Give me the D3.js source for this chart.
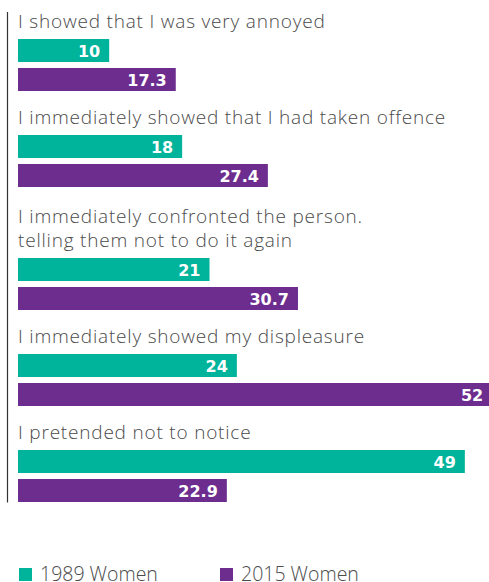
<!DOCTYPE html>
<html>
<head>
<meta charset="utf-8">
<script src="https://cdn.jsdelivr.net/npm/d3@7"></script>
<style>
  html, body { margin: 0; padding: 0; background: #ffffff; }
  svg { display: block; }
</style>
</head>
<body>
<svg id="chart" width="489" height="582"></svg>
<script>
// ---- data ----
const categories = [
  ["I showed that I was very annoyed"],
  ["I immediately showed that I had taken offence"],
  ["I immediately confronted the person.", "telling them not to do it again"],
  ["I immediately showed my displeasure"],
  ["I pretended not to notice"]
];
const seriesNames = ["1989 Women", "2015 Women"];
const values1989 = [10, 18, 21, 24, 49];
const values2015 = [17.3, 27.4, 30.7, 52, 22.9];
const valueLabels1989 = ["10", "18", "21", "24", "49"];
const valueLabels2015 = ["17.3", "27.4", "30.7", "52", "22.9"];
const colors = ["#00b39b", "#6c2d8e"];

// ---- layout ----
const svg = d3.select("#chart");
const x = d3.scaleLinear().domain([0, 52]).range([18, 492.2]);
const barH = 23, barGap = 6, lineH = 24, extraLine = 27, pitch = 96;
const titleFont = "'Open Sans', sans-serif";

const rows = [];
let barTop = 39;
categories.forEach((lines, i) => {
  rows.push({ lines, barTop, v: [values1989[i], values2015[i]], l: [valueLabels1989[i], valueLabels2015[i]] });
  const next = categories[i + 1];
  if (next) barTop += pitch + extraLine * (next.length - 1);
});

// axis line
svg.append("line")
  .attr("x1", 7.5).attr("x2", 7.5).attr("y1", 12).attr("y2", 502.5)
  .attr("stroke", "#333").attr("stroke-width", 1.2);

const g = svg.selectAll("g.row").data(rows).join("g").attr("class", "row")
  .attr("transform", d => `translate(0,${d.barTop})`);

g.each(function(d) {
  const sel = d3.select(this);
  const n = d.lines.length;
  d.lines.forEach((t, i) => {
    sel.append("text")
      .attr("class", "title")
      .attr("x", 18)
      .attr("y", -11 - lineH * (n - 1 - i))
      .attr("fill", "#4a4a4a")
      .style("font-family", titleFont)
      .style("font-weight", 300)
      .style("font-size", "19px")
      .style("letter-spacing", "0.8px")
      .text(t);
  });
  [0, 1].forEach(k => {
    sel.append("rect")
      .attr("x", x(0))
      .attr("y", k * (barH + barGap))
      .attr("width", x(d.v[k]) - x(0))
      .attr("height", barH)
      .attr("fill", colors[k]);
    sel.append("text")
      .attr("x", x(d.v[k]) - 9)
      .attr("y", k * (barH + barGap) + barH / 2 + 6)
      .attr("text-anchor", "end")
      .attr("fill", "#ffffff")
      .style("font-family", "'DejaVu Sans', sans-serif")
      .style("font-weight", 700)
      .style("font-size", "16px")
      .text(d.l[k]);
  });
});

// legend
const legendX = [19, 220];
seriesNames.forEach((name, k) => {
  svg.append("rect")
    .attr("x", legendX[k]).attr("y", 568)
    .attr("width", 13).attr("height", 13)
    .attr("fill", colors[k]);
  svg.append("text")
    .attr("class", "legend")
    .attr("x", legendX[k] + 21).attr("y", 581)
    .attr("fill", "#4a4a4a")
    .style("font-family", titleFont)
    .style("font-weight", 300)
    .style("font-size", "19.5px")
    .text(name);
});
</script>
</body>
</html>
